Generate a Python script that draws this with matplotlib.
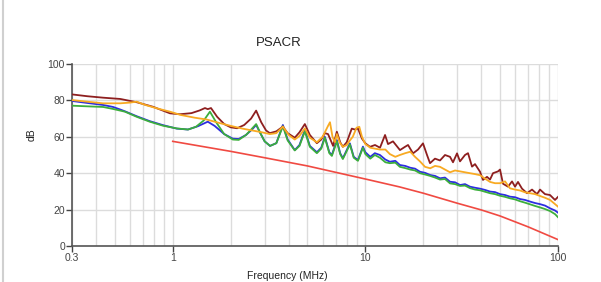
import matplotlib
matplotlib.use("Agg")
import matplotlib.pyplot as plt
from matplotlib.ticker import FixedLocator, NullFormatter, LogLocator

plt.rcParams["font.family"] = ["Liberation Sans", "DejaVu Sans"]

# --- data (MHz, dB) ---
limit_freq = [1.0, 2.0, 3.0, 5.0, 7.0, 10.0, 15.0, 20.0, 30.0, 40.0, 50.0, 70.0, 100.0]
limit_db = [57.5, 52.0, 48.5, 44.0, 40.5, 36.8, 32.5, 29.0, 23.5, 19.8, 16.5, 10.5, 3.5]

lf_freq_green = [0.30, 0.35, 0.435, 0.49, 0.565, 0.65, 0.76, 0.89, 1.05, 1.20, 1.32, 1.45,
                 1.56, 1.68, 1.85, 2.05, 2.20, 2.40, 2.58, 2.71, 2.85, 3.00, 3.20, 3.45,
                 3.73, 3.95, 4.30, 4.55, 4.85, 5.15, 5.60, 5.90, 6.16, 6.50, 6.70, 7.11,
                 7.40, 7.64, 8.31, 8.70, 9.15, 9.71]
lf_green = [77.1, 76.8, 76.4, 75.3, 73.8, 71.0, 68.3, 66.1, 64.6, 64.0, 65.5, 69.0,
            73.8, 68.0, 61.5, 58.5, 58.3, 61.0, 64.5, 67.0, 62.0, 57.5, 55.0, 56.5,
            65.8, 58.0, 52.5, 55.0, 63.0, 54.5, 51.0, 53.5, 59.5, 51.0, 49.5, 57.5,
            50.5, 47.8, 55.8, 48.5, 46.8, 54.0]

lf_freq_blue = [0.30, 0.36, 0.435, 0.49, 0.534, 0.565, 0.65, 0.76, 0.89, 1.05, 1.20, 1.35,
                1.52, 1.65, 1.85, 2.05, 2.20, 2.40, 2.58, 2.71, 2.85, 3.00, 3.20, 3.45,
                3.73, 3.95, 4.30, 4.55, 4.85, 5.15, 5.60, 5.90, 6.16, 6.50, 6.70, 7.11,
                7.40, 7.64, 8.31, 8.70, 9.15, 9.71]
lf_blue = [79.7, 78.6, 77.5, 76.4, 75.0, 74.0, 71.3, 68.6, 66.4, 64.5, 64.0, 65.8,
           68.3, 66.0, 61.5, 59.0, 58.8, 61.0, 64.0, 66.5, 62.0, 57.5, 55.0, 56.5,
           66.5, 58.5, 52.7, 55.5, 63.7, 55.0, 51.5, 54.0, 60.0, 51.5, 50.0, 58.2,
           51.0, 48.2, 56.4, 49.0, 47.2, 54.6]

lf_freq_orange = [0.30, 0.36, 0.435, 0.534, 0.60, 0.65, 0.72, 0.83, 0.968, 1.10, 1.30, 1.50,
                  1.76, 2.00, 2.30, 2.52, 2.90, 3.19, 3.45, 3.73, 4.00, 4.30, 4.55, 4.85,
                  5.15, 5.60, 6.00, 6.40, 6.55, 6.75, 6.95, 7.11, 7.35, 7.64, 8.00, 8.31,
                  8.60, 9.00, 9.30, 9.60]
lf_orange = [80.2, 79.3, 78.4, 78.4, 78.8, 79.3, 77.5, 75.6, 73.8, 72.0, 70.5, 69.5,
             67.5, 66.0, 64.5, 63.7, 62.5, 61.5, 62.0, 65.6, 61.0, 58.5, 60.5, 64.6,
             59.5, 57.0, 60.0, 66.0, 68.0, 60.0, 57.0, 61.5, 57.0, 54.5, 55.5, 58.0,
             60.0, 65.0, 65.5, 60.0]

lf_freq_brown = [0.30, 0.36, 0.435, 0.534, 0.65, 0.79, 0.968, 1.09, 1.25, 1.38, 1.47, 1.52,
                 1.58, 1.70, 1.85, 2.00, 2.16, 2.35, 2.55, 2.71, 2.88, 3.05, 3.19, 3.45,
                 3.73, 3.95, 4.30, 4.55, 4.85, 5.15, 5.60, 5.90, 6.16, 6.40, 6.80, 7.11,
                 7.40, 7.64, 8.00, 8.50, 8.82, 9.15, 9.60]
lf_brown = [83.3, 82.3, 81.5, 80.8, 79.0, 76.5, 72.9, 72.4, 73.0, 74.5, 75.8, 75.2,
            75.8, 71.0, 67.0, 65.2, 64.7, 66.5, 70.0, 74.4, 68.0, 63.5, 62.0, 63.0,
            65.6, 62.0, 59.5, 62.5, 67.0, 61.0, 56.5, 58.5, 62.0, 61.5, 55.0, 62.8,
            57.0, 54.5, 57.0, 64.5, 64.0, 64.6, 59.0]

hf_freq = [10.0, 10.6, 11.2, 11.9, 12.7, 13.4, 14.3, 15.1, 16.1, 17.1, 18.1, 19.2, 20.4,
           21.7, 23.0, 24.4, 25.9, 27.5, 29.2, 31.0, 32.9, 34.9, 37.1, 39.4, 41.8, 44.4,
           47.1, 50.0, 53.1, 56.3, 59.8, 63.5, 67.4, 71.6, 76.0, 80.6, 85.6, 90.9, 96.5, 100.0]
hf_blue = [51.5, 49.0, 51.0, 50.0, 47.5, 46.3, 46.8, 44.5, 44.0, 43.0, 42.5, 40.8, 40.2,
           39.0, 38.5, 37.2, 37.6, 35.3, 35.0, 33.5, 34.0, 32.6, 32.0, 31.5, 30.8, 29.9,
           29.6, 28.5, 28.0, 27.1, 26.8, 25.8, 25.3, 24.4, 23.6, 23.0, 22.2, 20.7, 19.5, 18.3]
hf_green = [50.5, 48.0, 50.0, 48.5, 46.0, 45.5, 45.8, 43.5, 42.8, 42.0, 41.5, 40.0, 39.3,
            38.5, 37.6, 36.5, 36.8, 34.4, 34.0, 33.0, 33.2, 31.8, 31.0, 30.6, 29.8, 29.0,
            28.5, 27.6, 27.0, 26.2, 25.6, 24.6, 23.8, 22.9, 22.0, 21.2, 20.3, 19.2, 17.5, 15.8]
hf_orange = [56.0, 54.0, 53.5, 53.0, 53.0, 50.5, 49.0, 50.0, 51.0, 51.8, 49.0, 46.5, 43.5,
             42.7, 44.0, 43.5, 42.0, 40.5, 41.5, 41.0, 40.5, 40.0, 39.5, 38.9, 37.0, 35.2,
             34.5, 34.5, 35.5, 31.7, 31.0, 30.5, 29.5, 29.0, 28.5, 27.5, 26.5, 25.3, 23.0, 21.6]

hf_freq_brown = [10.0, 10.57, 11.22, 11.91, 12.65, 13.11, 13.91, 15.12, 16.06, 16.65, 17.67,
                 18.76, 19.91, 20.89, 21.65, 22.98, 24.40, 25.90, 27.50, 28.50, 29.90, 30.99,
                 32.89, 34.10, 35.77, 37.08, 39.36, 40.79, 42.79, 44.36, 45.97, 48.81, 49.99,
                 51.81, 55.01, 57.70, 59.80, 61.97, 65.03, 69.02, 73.29, 77.80, 80.63, 85.59,
                 90.87, 96.45, 100.0]
hf_brown = [56.4, 54.5, 55.5, 54.0, 61.0, 56.0, 57.5, 52.7, 54.5, 55.5, 50.9,
            53.0, 56.4, 50.0, 45.5, 48.0, 47.0, 50.0, 49.0, 46.0, 50.9, 46.5,
            50.0, 51.0, 43.6, 45.0, 40.8, 36.3, 38.0, 36.5, 40.0, 41.0, 42.0,
            34.2, 32.6, 35.5, 32.6, 35.2, 31.5, 29.0, 31.0, 28.5, 31.0, 28.5,
            28.0, 25.3, 27.0]

fig = plt.figure(figsize=(6.01, 2.82), dpi=100)
ax = fig.add_axes([0.1198, 0.1277, 0.8087, 0.6453])

ax.plot(limit_freq, limit_db, color="#f04a42", lw=1.2, zorder=3)
ax.plot(lf_freq_blue + hf_freq, lf_blue + hf_blue, color="#2d2de0", lw=1.3, zorder=3)
ax.plot(lf_freq_green + hf_freq, lf_green + hf_green, color="#3cae3c", lw=1.3, zorder=4)
ax.plot(lf_freq_brown + hf_freq_brown, lf_brown + hf_brown, color="#8e1f1f", lw=1.3, zorder=5)
ax.plot(lf_freq_orange + hf_freq, lf_orange + hf_orange, color="#f8aa22", lw=1.3, zorder=6)

ax.set_xscale("log")
ax.set_xlim(0.3, 100)
ax.set_ylim(0, 100)
ax.xaxis.set_major_locator(FixedLocator([0.3, 1, 10, 100]))
ax.set_xticklabels(["0.3", "1", "10", "100"])
ax.xaxis.set_minor_locator(LogLocator(base=10, subs=range(2, 10), numticks=20))
ax.xaxis.set_minor_formatter(NullFormatter())
ax.set_yticks([0, 20, 40, 60, 80, 100])

ax.grid(True, which="both", axis="x", color="#dcdcdc", lw=1)
ax.grid(True, which="major", axis="y", color="#dcdcdc", lw=1)
ax.set_axisbelow(True)

for s in ["top", "right"]:
    ax.spines[s].set_visible(False)
for s in ["left", "bottom"]:
    ax.spines[s].set_color("#555555")
    ax.spines[s].set_linewidth(1.2)

ax.tick_params(axis="both", which="major", labelsize=7.5, colors="#444444",
               length=4, width=1, pad=1)
ax.tick_params(axis="x", which="minor", length=0)
ax.tick_params(axis="x", which="major", length=4, direction="out")

fig.text(279 / 601, 1 - 43 / 282, "PSACR", ha="center", va="center", fontsize=9.5, color="#222222")
fig.text(287 / 601, 1 - 276 / 282, "Frequency (MHz)", ha="center", va="center", fontsize=7.5,
         color="#222222")
fig.text(32 / 601, 1 - 135 / 282, "dB", ha="center", va="center", rotation=90, fontsize=7.5,
         color="#222222")

# thin light border on the left edge of the screenshot
fig.add_artist(plt.Line2D([3 / 601, 3 / 601], [0, 1], transform=fig.transFigure,
                          color="#d0d0d0", lw=1.5))

fig.savefig("out.png", dpi=100)
